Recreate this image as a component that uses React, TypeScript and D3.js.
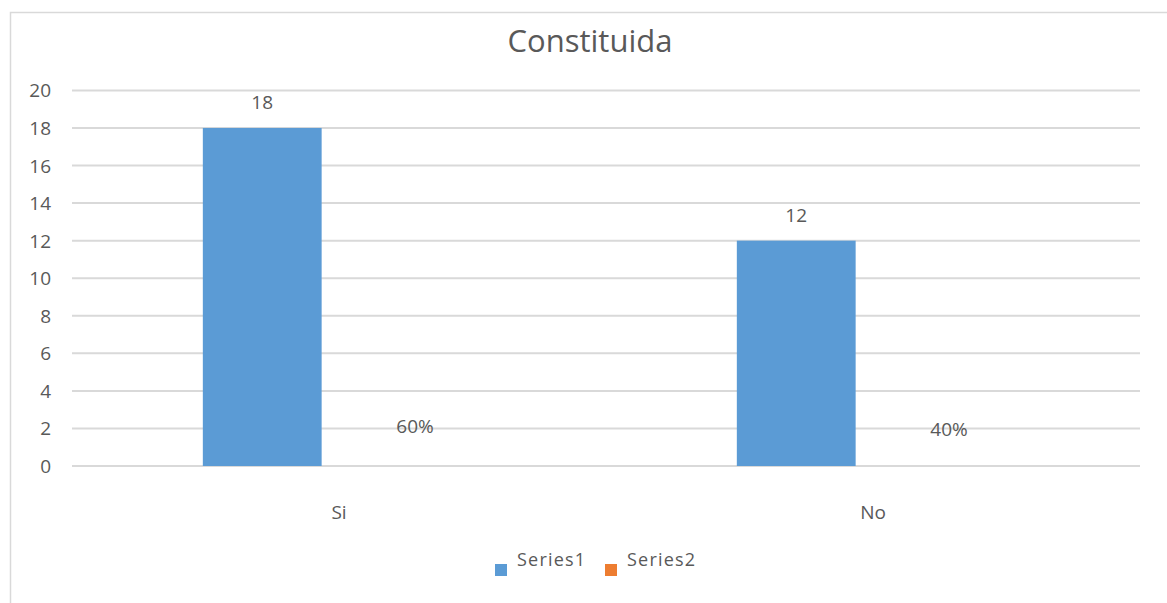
import React from "react";
import * as d3 from "d3";

const categories = ["Si", "No"];
const series1 = [18, 12];
const series2 = [0.6, 0.4];
const series2Labels = ["60%", "40%"];
const seriesNames = ["Series1", "Series2"];
const yTicks = [0, 2, 4, 6, 8, 10, 12, 14, 16, 18, 20];
const title = "Constituida";

const W = 1167;
const H = 603;
const FONT = "'Open Sans', 'Noto Sans', sans-serif";
const TEXT = "#595959";
const GRID = "#d9d9d9";
const COLORS = ["#5B9BD5", "#ED7D31"];

export default function App() {
  const plotLeft = 72;
  const plotRight = 1140;
  const y = d3.scaleLinear().domain([0, 20]).range([466, 90.4]);
  const x0 = d3.scaleBand<string>().domain(categories).range([plotLeft, plotRight]);
  const bw = x0.bandwidth();
  const x1 = d3.scaleBand<string>().domain(seriesNames).range([bw * 0.245, bw * 0.69]);

  return (
    <svg width={W} height={H} style={{ position: "absolute", left: 0, top: 0 }} fontFamily={FONT}>
      <rect x={0} y={0} width={W} height={H} fill="#fff" />
      <rect x={10.5} y={12.5} width={1165} height={600} fill="#fff" stroke={GRID} strokeWidth={1.5} />
      <text x={590} y={52} textAnchor="middle" fontSize={31} fill={TEXT}>{title}</text>
      {yTicks.map((t) => (
        <g key={t}>
          <line x1={plotLeft} x2={plotRight} y1={y(t)} y2={y(t)} stroke={GRID} strokeWidth={2} />
          <text x={51} y={y(t)} textAnchor="end" dominantBaseline="central" fontSize={19} fill={TEXT}>{t}</text>
        </g>
      ))}
      {categories.map((c, i) => {
        const gx = x0(c)!;
        const bx = gx + x1(seriesNames[0])!;
        const b2x = gx + x1(seriesNames[1])!;
        return (
          <g key={c}>
            <rect x={bx} y={y(series1[i])} width={x1.bandwidth()} height={y(0) - y(series1[i])} fill={COLORS[0]} />
            <text x={bx + x1.bandwidth() / 2} y={y(series1[i]) - 19} textAnchor="middle" fontSize={19} fill={TEXT}>{series1[i]}</text>
            <text x={b2x + x1.bandwidth() / 2 + 34} y={y(series2[i]) - 22} textAnchor="middle" fontSize={19} fill={TEXT}>{series2Labels[i]}</text>
            <text x={gx + bw / 2} y={519} textAnchor="middle" fontSize={19} fill={TEXT}>{c}</text>
          </g>
        );
      })}
      {seriesNames.map((s, i) => {
        const lx = 495 + i * 110;
        return (
          <g key={s}>
            <rect x={lx} y={564} width={12} height={12} fill={COLORS[i]} />
            <text x={lx + 22} y={566} fontSize={18} fill={TEXT} letterSpacing={1.2}>{s}</text>
          </g>
        );
      })}
    </svg>
  );
}
